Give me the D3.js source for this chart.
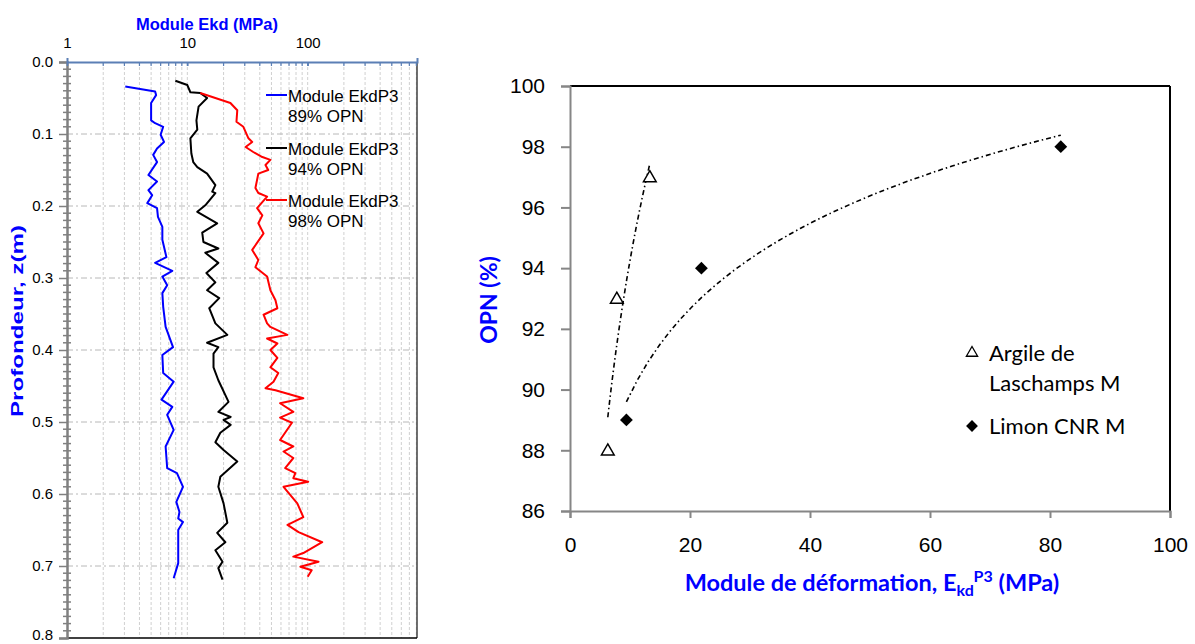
<!DOCTYPE html>
<html><head><meta charset="utf-8">
<script src="https://cdn.jsdelivr.net/npm/d3@7"></script>
<style>body{margin:0;background:#fff}svg{display:block}</style>
</head><body>
<svg id="c" width="1195" height="644"></svg>
<script>
// ---------- DATA ----------
// Left panel: depth (m) and Ekd (MPa)
const profile89 = [[0.034,3.05],[0.041,5.4],[0.046,5.5],[0.057,5.0],[0.081,5.0],[0.085,5.4],[0.090,6.3],[0.101,6.0],[0.111,6.4],[0.120,5.6],[0.129,5.2],[0.139,5.6],[0.157,4.75],[0.166,5.6],[0.178,4.75],[0.185,5.1],[0.196,4.65],[0.203,5.6],[0.215,5.7],[0.229,6.2],[0.247,6.2],[0.271,6.7],[0.279,5.4],[0.290,7.5],[0.298,6.2],[0.310,6.8],[0.321,6.2],[0.340,6.3],[0.368,6.6],[0.396,7.6],[0.407,6.2],[0.432,6.3],[0.444,7.7],[0.469,6.1],[0.479,7.5],[0.490,6.8],[0.511,7.7],[0.534,6.6],[0.564,6.8],[0.571,8.2],[0.590,9.2],[0.611,8.1],[0.625,8.6],[0.634,8.4],[0.639,9.2],[0.650,8.4],[0.696,8.4],[0.717,7.7]];
const profile94 = [[0.026,7.95],[0.032,10.0],[0.042,10.6],[0.043,12.8],[0.050,14.6],[0.062,12.4],[0.081,11.9],[0.094,12.1],[0.106,10.6],[0.127,10.8],[0.139,11.2],[0.146,12.1],[0.155,14.6],[0.171,17.1],[0.180,16.1],[0.182,17.1],[0.199,14.1],[0.208,12.1],[0.224,17.7],[0.237,13.3],[0.250,13.6],[0.259,18.1],[0.265,14.1],[0.279,18.1],[0.293,14.4],[0.306,17.1],[0.317,14.6],[0.328,18.4],[0.342,15.2],[0.363,17.1],[0.379,21.5],[0.390,14.6],[0.396,18.1],[0.405,16.5],[0.424,16.5],[0.442,18.1],[0.472,22.0],[0.486,18.1],[0.493,22.9],[0.497,20.0],[0.504,22.9],[0.515,18.8],[0.528,17.1],[0.539,20.0],[0.555,26.0],[0.576,18.8],[0.590,18.1],[0.613,20.0],[0.640,21.5],[0.654,17.7],[0.667,20.7],[0.678,17.1],[0.694,19.6],[0.703,18.1],[0.719,19.6]];
const profile98 = [[0.043,12.8],[0.057,22.8],[0.067,26],[0.083,25.6],[0.090,29.2],[0.106,32.2],[0.111,34.6],[0.118,30.5],[0.125,35.3],[0.132,42],[0.136,49],[0.143,44.6],[0.150,47],[0.155,38.9],[0.175,36.8],[0.182,38.9],[0.187,46],[0.203,38],[0.213,42],[0.224,38.9],[0.238,43],[0.261,34.6],[0.275,38.9],[0.285,36.8],[0.298,46],[0.317,49],[0.331,54],[0.342,56],[0.351,43],[0.363,46],[0.368,49],[0.379,67.8],[0.384,46],[0.391,56],[0.400,49],[0.411,56],[0.424,49],[0.432,57],[0.444,52],[0.453,44.6],[0.456,54],[0.467,92],[0.474,59],[0.486,76],[0.494,59],[0.501,74],[0.525,59],[0.534,76],[0.541,63],[0.550,76],[0.564,65],[0.571,79],[0.578,76],[0.583,101],[0.590,63],[0.613,82],[0.632,92],[0.643,68],[0.653,84],[0.667,132],[0.682,92],[0.687,76],[0.694,123],[0.701,87],[0.706,108],[0.715,100]];
const profileNames = ["Module EkdP3", "Module EkdP3", "Module EkdP3"];
const profileOPN = ["89% OPN", "94% OPN", "98% OPN"];
const depthTicks = [0,0.1,0.2,0.3,0.4,0.5,0.6,0.7,0.8];
const ekdTickLabels = [1,10,100];

// Right panel
const argileE = [6.3, 7.8, 13.3];
const argileOPN = [88, 93, 97];
const limonE = [9.4, 21.9, 81.8];
const limonOPN = [89, 94, 98];
const opnTicks = [86,88,90,92,94,96,98,100];
const eTicks = [0,20,40,60,80,100];

// ---------- DRAW ----------
const svg = d3.select("#c");
const BLUE = "#0000ff";

// ===== LEFT PANEL =====
const xL = d3.scaleLog().domain([1, 810]).range([67, 417]);
const yL = d3.scaleLinear().domain([0, 0.8]).range([62, 638]);
const L = svg.append("g").attr("font-family","'Liberation Sans', Arial, sans-serif");

const logGrid = [];
for (let p = 0; p <= 2; p++) for (let m = 1; m <= 9; m++) { const v = m*Math.pow(10,p); if (v>1 && v<810) logGrid.push(v); }
L.append("g").selectAll("line").data(logGrid).join("line")
  .attr("x1", d=>xL(d)).attr("x2", d=>xL(d)).attr("y1", yL(0)).attr("y2", yL(0.8))
  .attr("stroke", "#d0d0d0").attr("stroke-width", 1).attr("stroke-dasharray", "3,2");
L.append("g").selectAll("line").data(depthTicks.slice(1,-1)).join("line")
  .attr("x1", xL(1)).attr("x2", xL(810)).attr("y1", d=>yL(d)).attr("y2", d=>yL(d))
  .attr("stroke", "#b8b8b8").attr("stroke-width", 1).attr("stroke-dasharray", "6,3,2,3");

L.append("line").attr("x1", xL(810)).attr("x2", xL(810)).attr("y1", yL(0)).attr("y2", yL(0.8)).attr("stroke","#404040").attr("stroke-width",1.5);
L.append("line").attr("x1", xL(1)).attr("x2", xL(810)).attr("y1", yL(0.8)).attr("y2", yL(0.8)).attr("stroke","#000").attr("stroke-width",1.5);

const yAxisL = d3.axisLeft(yL).tickValues(depthTicks).tickFormat(d3.format(".1f")).tickSize(8).tickPadding(6);
const gyl = L.append("g").attr("transform", `translate(${xL(1)},0)`).call(yAxisL);
gyl.select(".domain").attr("stroke","#808080").attr("stroke-width",2.5);
gyl.selectAll(".tick line").attr("stroke","#808080").attr("stroke-width",1.5);
gyl.selectAll(".tick text").attr("font-size",15).attr("fill","#000");
gyl.selectAll(".tick").filter(d=>d===0.8).select("text").attr("dy","0.1em");
L.append("g").selectAll("line").data(d3.range(1,80).filter(i=>i%10!==0).map(i=>i/100)).join("line")
  .attr("x1", xL(1)-4).attr("x2", xL(1)+4).attr("y1", d=>yL(d)).attr("y2", d=>yL(d))
  .attr("stroke","#808080").attr("stroke-width",1.5);

const xAxisL = d3.axisTop(xL).tickValues(ekdTickLabels).tickFormat(d3.format("d")).tickSize(4).tickPadding(10);
const gxl = L.append("g").attr("transform", `translate(0,${yL(0)})`).call(xAxisL);
gxl.select(".domain").attr("stroke","#5b7fb5").attr("stroke-width",2);
gxl.selectAll(".tick line").attr("stroke","#5b7fb5").attr("stroke-width",1.5).attr("y2",4);
gxl.selectAll(".tick text").attr("font-size",15).attr("fill","#000");
L.append("g").selectAll("line").data(logGrid).join("line")
  .attr("x1", d=>xL(d)).attr("x2", d=>xL(d)).attr("y1", yL(0)).attr("y2", yL(0)+4)
  .attr("stroke","#5b7fb5").attr("stroke-width",1.2);

L.append("text").attr("x", 207).attr("y", 30).attr("text-anchor","middle")
  .attr("font-size",16.5).attr("font-weight","bold").attr("fill",BLUE).text("Module Ekd (MPa)");
L.append("text").attr("transform","translate(23,321) rotate(-90)").attr("text-anchor","middle")
  .attr("font-size",16.5).attr("font-weight","bold").attr("fill",BLUE)
  .attr("textLength",192).attr("lengthAdjust","spacingAndGlyphs").text("Profondeur, z(m)");

const profiles = [profile89, profile94, profile98];
const colors = [BLUE, "#000000", "#ff0000"];
const lineL = d3.line().x(d=>xL(d[1])).y(d=>yL(d[0]));
profiles.forEach((p,i)=>{
  L.append("path").datum(p).attr("d", lineL).attr("fill","none")
    .attr("stroke", colors[i]).attr("stroke-width", 2).attr("stroke-linejoin","round");
});

const legY = [95, 148, 200];
profiles.forEach((p,i)=>{
  const g = L.append("g").attr("transform", `translate(266,${legY[i]})`);
  g.append("line").attr("x1",0).attr("x2",21).attr("y1",0).attr("y2",0).attr("stroke",colors[i]).attr("stroke-width",2);
  g.append("text").attr("x",22).attr("y",6.5).attr("font-size",17).attr("fill","#000").text(profileNames[i]);
  g.append("text").attr("x",22).attr("y",27).attr("font-size",17).attr("fill","#000").text(profileOPN[i]);
});

// ===== RIGHT PANEL =====
const xR = d3.scaleLinear().domain([0,100]).range([570,1170]);
const yR = d3.scaleLinear().domain([86,100]).range([511,86]);
const R = svg.append("g").attr("font-family","Lato, 'Open Sans', sans-serif");

R.append("line").attr("x1",xR(0)).attr("x2",xR(100)).attr("y1",yR(100)).attr("y2",yR(100)).attr("stroke","#000").attr("stroke-width",2);
R.append("line").attr("x1",xR(100)).attr("x2",xR(100)).attr("y1",yR(100)).attr("y2",yR(86)).attr("stroke","#000").attr("stroke-width",2);

const gxr = R.append("g").attr("transform",`translate(0,${yR(86)})`)
  .call(d3.axisBottom(xR).tickValues(eTicks).tickSize(7).tickPadding(19));
gxr.select(".domain").attr("stroke","#868686").attr("stroke-width",2);
gxr.selectAll(".tick line").attr("stroke","#868686").attr("stroke-width",2);
gxr.selectAll(".tick text").attr("font-size",21).attr("fill","#000");

const gyr = R.append("g").attr("transform",`translate(${xR(0)},0)`)
  .call(d3.axisLeft(yR).tickValues(opnTicks).tickSize(9).tickPadding(16));
gyr.select(".domain").attr("stroke","#868686").attr("stroke-width",2);
gyr.selectAll(".tick line").attr("stroke","#868686").attr("stroke-width",2);
gyr.selectAll(".tick text").attr("font-size",21).attr("fill","#000");

const xt = R.append("text").attr("x",872).attr("y",591).attr("text-anchor","middle")
  .attr("font-size",23.5).attr("font-weight","bold").attr("fill",BLUE);
xt.append("tspan").text("Module de déformation, E");
xt.append("tspan").attr("font-size",16).attr("dy",5).text("kd");
xt.append("tspan").attr("font-size",16).attr("dy",-14).text("P3");
xt.append("tspan").attr("dy",9).text(" (MPa)");
R.append("text").attr("transform","translate(497,300) rotate(-90)").attr("text-anchor","middle")
  .attr("font-size",23).attr("font-weight","bold").attr("fill",BLUE).text("OPN (%)");

function logFit(xs, ys){
  const lx = xs.map(Math.log), mx = d3.mean(lx), my = d3.mean(ys);
  const a = d3.sum(lx.map((v,i)=>(v-mx)*(ys[i]-my))) / d3.sum(lx.map(v=>(v-mx)*(v-mx)));
  const b = my - a*mx;
  const [x0,x1] = d3.extent(xs);
  return d3.range(0,41).map(k=>{ const x = x0 + (x1-x0)*k/40; return [x, a*Math.log(x)+b]; });
}
const lineR = d3.line().x(d=>xR(d[0])).y(d=>yR(d[1]));
[[argileE,argileOPN],[limonE,limonOPN]].forEach(([xs,ys])=>{
  R.append("path").datum(logFit(xs,ys)).attr("d",lineR).attr("fill","none")
    .attr("stroke","#000").attr("stroke-width",1.6).attr("stroke-dasharray","5,3,1.5,3");
});

const tri = d3.symbol().type(d3.symbolTriangle).size(70);
const dia = d3.symbol().type(d3.symbolSquare).size(82);
R.append("g").selectAll("path").data(argileE).join("path")
  .attr("transform",(d,i)=>`translate(${xR(d)},${yR(argileOPN[i])+1})`).attr("d",tri)
  .attr("fill","#fff").attr("stroke","#000").attr("stroke-width",1.5);
R.append("g").selectAll("path").data(limonE).join("path")
  .attr("transform",(d,i)=>`translate(${xR(d)},${yR(limonOPN[i])}) rotate(45)`).attr("d",dia)
  .attr("fill","#000");

R.append("path").attr("transform","translate(972,353)").attr("d",d3.symbol().type(d3.symbolTriangle).size(55)).attr("fill","#fff").attr("stroke","#000").attr("stroke-width",1.3);
R.append("text").attr("x",989).attr("y",361).attr("font-size",22).attr("fill","#000").text("Argile de");
R.append("text").attr("x",989).attr("y",391).attr("font-size",22).attr("fill","#000").text("Laschamps M");
R.append("path").attr("transform","translate(972,426) rotate(45)").attr("d",d3.symbol().type(d3.symbolSquare).size(70)).attr("fill","#000");
R.append("text").attr("x",989).attr("y",434).attr("font-size",22).attr("fill","#000").text("Limon CNR M");
</script>
</body></html>
